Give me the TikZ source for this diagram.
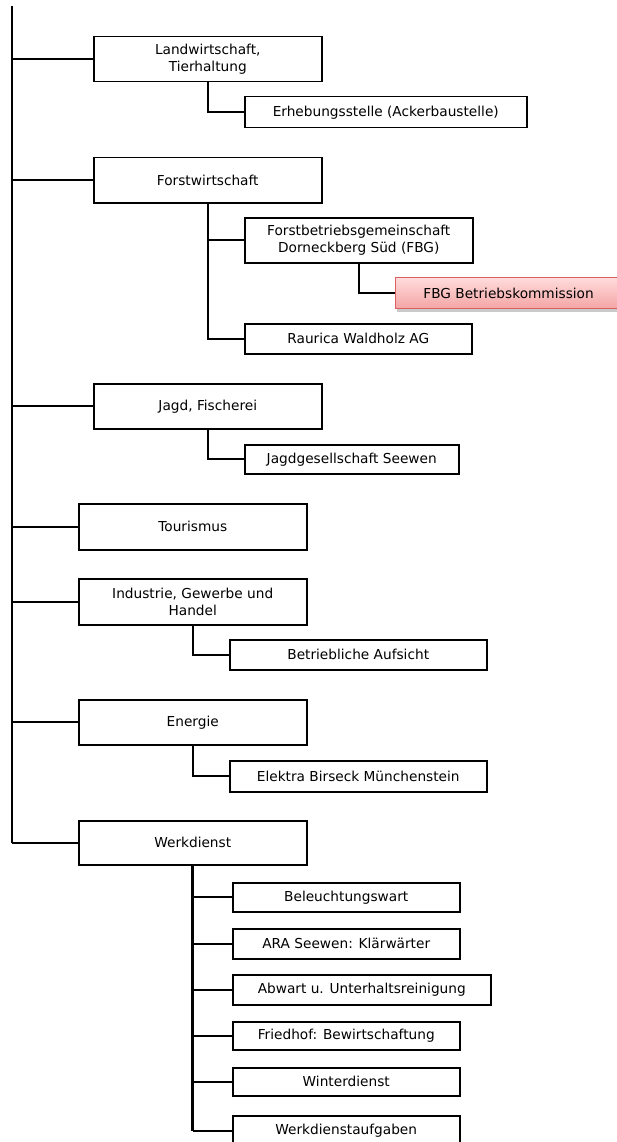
\documentclass[tikz,border=0pt]{standalone}
\usepackage{fontspec}
\setmainfont{DejaVu Sans}
\usetikzlibrary{shadows}
\definecolor{kommtop}{HTML}{FFDCDC}
\definecolor{kommbot}{HTML}{F4A4A4}
\definecolor{kommline}{HTML}{D86060}
\tikzset{
  box/.style={draw, line width=1.5pt, rectangle, inner sep=0pt, align=center,
    anchor=north west, font=\fontsize{13.7}{16.5}\selectfont},
  link/.style={line width=1.6pt},
  trunk/.style={line width=2.8pt},
  hilite/.style={box, draw=kommline, line width=1.2pt, top color=kommtop, bottom color=kommbot,
    drop shadow={shadow xshift=1pt, shadow yshift=-3pt, opacity=0.35, fill=black!60}},
}
\begin{document}
\begin{tikzpicture}[x=1pt, y=-1pt]
\useasboundingbox (0,0) rectangle (617,1142);

% main sections
\node[box, minimum width=228pt, minimum height=45pt] (lw) at (93,36) {Landwirtschaft,\\Tierhaltung};
\node[box, minimum width=282pt, minimum height=31pt] (erh) at (244,96) {Erhebungsstelle (Ackerbaustelle)};

\node[box, minimum width=228pt, minimum height=45pt] (fw) at (93,157) {Forstwirtschaft};
\node[box, minimum width=228pt, minimum height=45pt] (fbg) at (244,217) {Forstbetriebsgemeinschaft\\Dorneckberg Süd (FBG)};
\node[hilite, minimum width=226pt, minimum height=31pt] (kom) at (395,277) {FBG Betriebskommission};
\node[box, minimum width=227pt, minimum height=30pt] (rau) at (244,323) {Raurica Waldholz AG};

\node[box, minimum width=228pt, minimum height=45pt] (jf) at (93,383) {Jagd, Fischerei};
\node[box, minimum width=214pt, minimum height=29pt] (jg) at (244,444) {Jagdgesellschaft Seewen};

\node[box, minimum width=228pt, minimum height=46pt] (tou) at (78,503) {Tourismus};

\node[box, minimum width=228pt, minimum height=46pt] (ind) at (78,578) {Industrie, Gewerbe und\\Handel};
\node[box, minimum width=257pt, minimum height=30pt] (bet) at (229,639) {Betriebliche Aufsicht};

\node[box, minimum width=228pt, minimum height=45pt] (en) at (78,699) {Energie};
\node[box, minimum width=257pt, minimum height=31pt] (ebm) at (229,760) {Elektra Birseck Münchenstein};

\node[box, minimum width=228pt, minimum height=44pt] (wd) at (78,820) {Werkdienst};
\node[box, minimum width=227pt, minimum height=29pt] (w1) at (232,882) {Beleuchtungswart};
\node[box, minimum width=227pt, minimum height=30pt] (w2) at (232,928) {ARA Seewen: Klärwärter};
\node[box, minimum width=258pt, minimum height=30pt] (w3) at (232,974) {Abwart u. Unterhaltsreinigung};
\node[box, minimum width=227pt, minimum height=28pt] (w4) at (232,1021) {Friedhof: Bewirtschaftung};
\node[box, minimum width=227pt, minimum height=28pt] (w5) at (232,1067) {Winterdienst};
\node[box, minimum width=227pt, minimum height=30pt] (w6) at (232,1115) {Werkdienstaufgaben};

% main trunk on the left
\coordinate (top) at (12,6);
\draw[trunk] (top) -- (top |- wd.west);
\foreach \n in {lw,fw,jf,tou,ind,en,wd}
  \draw[link] (top |- \n.west) -- (\n.west);

% sub-branches
\draw[link] (lw.south) |- (erh.west);
\draw[link] (fw.south) |- (rau.west);
\draw[link] (fw.south |- fbg.west) -- (fbg.west);
\draw[link] (fbg.south) |- (kom.west);
\draw[link] (jf.south) |- (jg.west);
\draw[link] (ind.south) |- (bet.west);
\draw[link] (en.south) |- (ebm.west);

\draw[trunk] (wd.south) -- (wd.south |- w6.west);
\foreach \n in {w1,w2,w3,w4,w5,w6}
  \draw[link] (wd.south |- \n.west) -- (\n.west);
\end{tikzpicture}
\end{document}
